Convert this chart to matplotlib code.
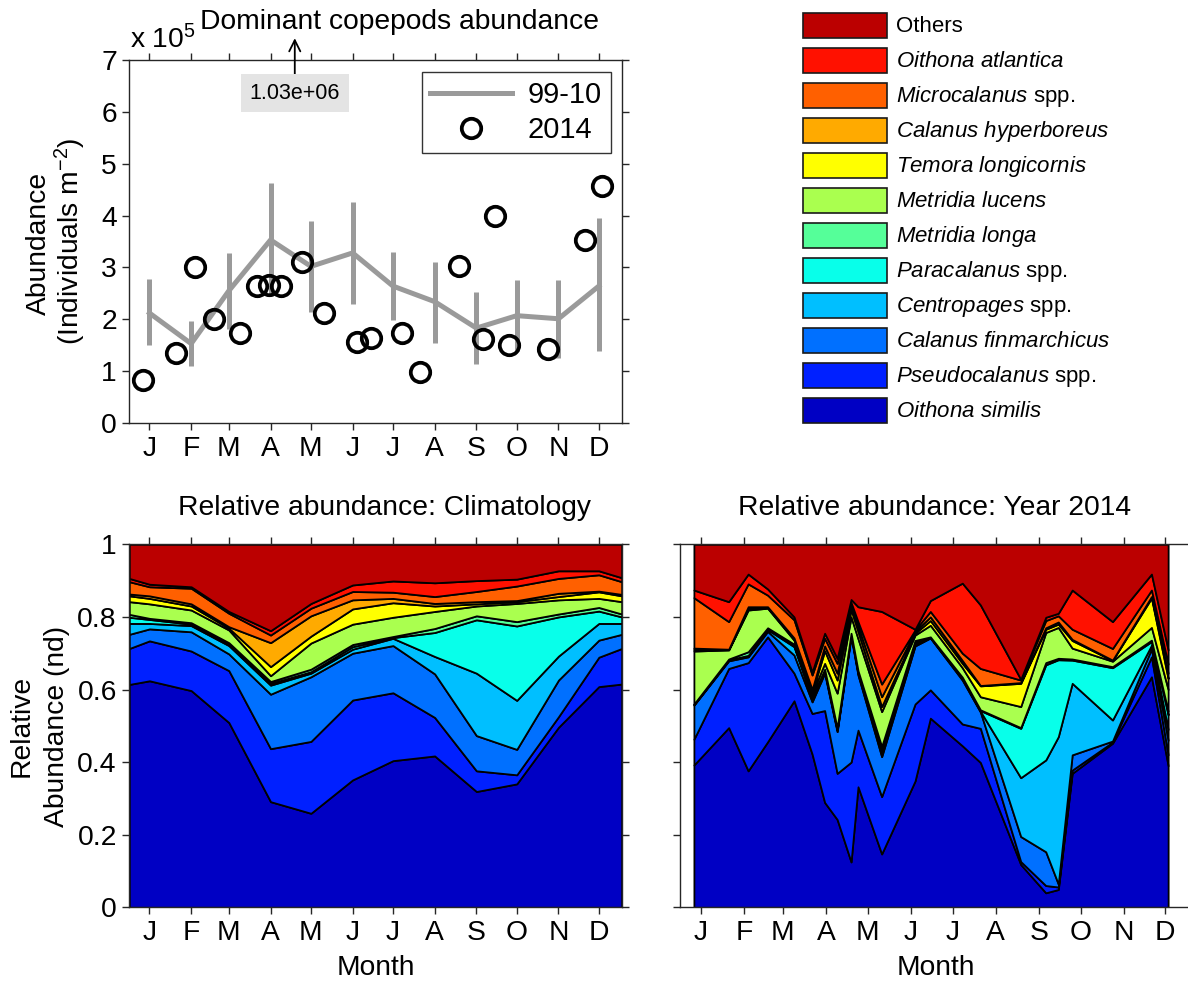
import numpy as np
import matplotlib
matplotlib.use("Agg")
import matplotlib.pyplot as plt
from matplotlib.patches import Rectangle

plt.rcParams['font.family'] = ['Liberation Sans', 'DejaVu Sans']
plt.rcParams['mathtext.fontset'] = 'custom'
plt.rcParams['mathtext.rm'] = 'Liberation Sans'
plt.rcParams['mathtext.it'] = 'Liberation Sans:italic'
plt.rcParams['mathtext.bf'] = 'Liberation Sans:bold'

# ---------------------------------------------------------------- data
month_labels = list("JFMAMJJASOND")
month_days = [15, 46, 74, 105, 135, 166, 196, 227, 258, 288, 319, 349]

# 1999-2010 monthly climatology of dominant copepods (x 1e5 ind m-2)
clim_mean = [2.12, 1.53, 2.55, 3.53, 3.02, 3.28, 2.64, 2.34, 1.83, 2.07, 2.01, 2.64]
clim_low = [1.50, 1.10, 1.82, 2.45, 2.15, 2.29, 1.99, 1.55, 1.13, 1.38, 1.25, 1.38]
clim_high = [2.77, 1.96, 3.28, 4.63, 3.90, 4.27, 3.29, 3.10, 2.52, 2.75, 2.75, 3.95]

# 2014 sampling days (day of year) and abundance (x 1e5 ind m-2)
sample_days = [10, 35, 49, 63, 82, 95, 104, 113, 123, 128, 145, 169,
               180, 203, 216, 245, 263, 272, 282, 311, 339, 351]
sample_abund = [0.82, 1.35, 3.00, 2.00, 1.73, 2.65, 2.66, 2.65, 10.3, 3.11, 2.12, 1.56,
                1.64, 1.73, 0.98, 3.02, 1.62, 4.00, 1.50, 1.43, 3.53, 4.57]

species_labels = [
    r"$\mathit{Oithona\ similis}$",
    r"$\mathit{Pseudocalanus}$ spp.",
    r"$\mathit{Calanus\ finmarchicus}$",
    r"$\mathit{Centropages}$ spp.",
    r"$\mathit{Paracalanus}$ spp.",
    r"$\mathit{Metridia\ longa}$",
    r"$\mathit{Metridia\ lucens}$",
    r"$\mathit{Temora\ longicornis}$",
    r"$\mathit{Calanus\ hyperboreus}$",
    r"$\mathit{Microcalanus}$ spp.",
    r"$\mathit{Oithona\ atlantica}$",
    "Others",
]
species_colors = ['#0000C4', '#0020FF', '#0070FF', '#00BFFF', '#08FFEA', '#55FF99',
                  '#AAFF4F', '#FFFF00', '#FFAA00', '#FF6000', '#FF1100', '#BB0000']

# Climatology: cumulative relative abundance (upper edge of each species,
# bottom to top; "Others" fills up to 1). Year-wrapped ends at day 0 and 366.
clim_days = [0] + month_days + [366]
clim_cum = [
    [0.614, 0.624, 0.597, 0.509, 0.291, 0.259, 0.351, 0.404, 0.417, 0.319, 0.340, 0.496, 0.608, 0.615],
    [0.713, 0.734, 0.706, 0.652, 0.437, 0.457, 0.571, 0.591, 0.523, 0.376, 0.365, 0.525, 0.689, 0.713],
    [0.752, 0.767, 0.759, 0.698, 0.587, 0.635, 0.700, 0.721, 0.643, 0.473, 0.435, 0.626, 0.736, 0.752],
    [0.782, 0.782, 0.776, 0.721, 0.612, 0.645, 0.711, 0.741, 0.691, 0.645, 0.570, 0.692, 0.782, 0.782],
    [0.799, 0.793, 0.780, 0.725, 0.617, 0.649, 0.718, 0.743, 0.757, 0.792, 0.775, 0.800, 0.816, 0.800],
    [0.807, 0.796, 0.784, 0.729, 0.622, 0.656, 0.724, 0.746, 0.768, 0.803, 0.787, 0.808, 0.826, 0.808],
    [0.842, 0.836, 0.819, 0.764, 0.638, 0.728, 0.780, 0.799, 0.815, 0.830, 0.837, 0.847, 0.851, 0.842],
    [0.858, 0.851, 0.830, 0.769, 0.663, 0.747, 0.822, 0.839, 0.830, 0.836, 0.842, 0.856, 0.869, 0.858],
    [0.863, 0.858, 0.836, 0.773, 0.729, 0.803, 0.847, 0.851, 0.837, 0.842, 0.845, 0.865, 0.871, 0.862],
    [0.897, 0.883, 0.879, 0.810, 0.750, 0.824, 0.870, 0.868, 0.856, 0.870, 0.885, 0.906, 0.916, 0.897],
    [0.906, 0.890, 0.883, 0.815, 0.762, 0.837, 0.888, 0.899, 0.894, 0.900, 0.904, 0.927, 0.927, 0.908],
]

# 2014: cumulative relative abundance at each sampling day
y2014_cum = [
    [0.392, 0.495, 0.376, 0.456, 0.569, 0.422, 0.289, 0.242, 0.125, 0.332, 0.147, 0.348, 0.521, 0.445, 0.399, 0.118, 0.040, 0.049, 0.369, 0.452, 0.635, 0.390],
    [0.463, 0.658, 0.674, 0.745, 0.645, 0.534, 0.542, 0.369, 0.400, 0.488, 0.305, 0.560, 0.599, 0.505, 0.493, 0.126, 0.060, 0.056, 0.378, 0.455, 0.690, 0.420],
    [0.557, 0.679, 0.690, 0.760, 0.695, 0.566, 0.645, 0.484, 0.746, 0.640, 0.415, 0.720, 0.742, 0.626, 0.538, 0.195, 0.153, 0.064, 0.420, 0.458, 0.712, 0.460],
    [0.558, 0.681, 0.692, 0.765, 0.718, 0.575, 0.650, 0.488, 0.750, 0.645, 0.424, 0.725, 0.743, 0.630, 0.540, 0.357, 0.406, 0.470, 0.617, 0.516, 0.722, 0.490],
    [0.559, 0.682, 0.694, 0.767, 0.721, 0.578, 0.653, 0.490, 0.752, 0.648, 0.433, 0.730, 0.744, 0.632, 0.542, 0.493, 0.668, 0.682, 0.681, 0.660, 0.732, 0.530],
    [0.560, 0.684, 0.704, 0.770, 0.725, 0.580, 0.656, 0.494, 0.755, 0.652, 0.443, 0.735, 0.745, 0.634, 0.544, 0.495, 0.674, 0.686, 0.684, 0.663, 0.736, 0.540],
    [0.706, 0.709, 0.819, 0.824, 0.736, 0.590, 0.672, 0.590, 0.800, 0.740, 0.539, 0.750, 0.777, 0.660, 0.580, 0.553, 0.757, 0.771, 0.714, 0.678, 0.771, 0.600],
    [0.710, 0.710, 0.823, 0.826, 0.739, 0.592, 0.707, 0.626, 0.820, 0.760, 0.553, 0.755, 0.790, 0.672, 0.610, 0.617, 0.766, 0.780, 0.735, 0.680, 0.852, 0.630],
    [0.714, 0.711, 0.828, 0.828, 0.742, 0.600, 0.720, 0.645, 0.830, 0.775, 0.580, 0.760, 0.800, 0.680, 0.611, 0.619, 0.770, 0.786, 0.738, 0.681, 0.856, 0.645],
    [0.853, 0.787, 0.891, 0.860, 0.792, 0.640, 0.741, 0.672, 0.840, 0.787, 0.615, 0.764, 0.815, 0.700, 0.658, 0.626, 0.790, 0.803, 0.766, 0.713, 0.874, 0.670],
    [0.874, 0.842, 0.918, 0.877, 0.800, 0.648, 0.755, 0.686, 0.848, 0.828, 0.815, 0.766, 0.845, 0.893, 0.833, 0.628, 0.799, 0.810, 0.874, 0.787, 0.918, 0.709],
]

# ---------------------------------------------------------------- layout
W, H = 1188, 983
fig = plt.figure(figsize=(W / 100, H / 100), dpi=100)
SPINE = '#262626'
FS = 20.3


def px_axes(left, top, right, bottom):
    return fig.add_axes([left / W, 1 - bottom / H, (right - left) / W, (bottom - top) / H])


def style_axes(ax):
    for s in ax.spines.values():
        s.set_color(SPINE)
        s.set_linewidth(1.0)
    ax.tick_params(direction='out', length=5, width=1.0, color=SPINE,
                   top=True, right=True, labelsize=FS, pad=4)
    ax.set_xticks(month_days)
    ax.set_xticklabels(month_labels)


# ---------------------------------------------------------------- abundance
ax1 = px_axes(129.3, 60, 621.7, 423)
style_axes(ax1)
ax1.set_xlim(0, 366)
ax1.set_ylim(0, 7)
ax1.set_yticks(range(0, 8))
mean = np.array(clim_mean)
ax1.errorbar(month_days, clim_mean,
             yerr=[mean - np.array(clim_low), np.array(clim_high) - mean],
             fmt='none', ecolor='#9a9a9a', elinewidth=3.6, capsize=0)
line_clim, = ax1.plot(month_days, clim_mean, color='#9a9a9a', lw=3.6, label='99-10')
pts, = ax1.plot(sample_days, sample_abund, 'o', mfc='none', mec='k', ms=14, mew=2.7,
                label='2014')

imax = int(np.argmax(sample_abund))
ax1.annotate(f"{sample_abund[imax] * 1e5:.2e}",
             xy=(sample_days[imax], 7.42), xytext=(sample_days[imax], 6.36),
             ha='center', va='center', fontsize=15.5, annotation_clip=False,
             bbox=dict(boxstyle='square,pad=0.4', fc='#e4e4e4', ec='none'),
             arrowprops=dict(arrowstyle='->', color='k', lw=1.3,
                             shrinkA=0, shrinkB=0, mutation_scale=20))

leg = ax1.legend(handles=[line_clim, pts], loc='upper right',
                 bbox_to_anchor=(0.978, 0.967), borderaxespad=0.0,
                 fontsize=21, frameon=True, fancybox=False, edgecolor='k',
                 handlelength=2.8, handletextpad=0.55, labelspacing=0.25,
                 borderpad=0.3)
leg.get_frame().set_linewidth(1.0)

fig.text(130 / W, 1 - 40 / H, r"x 10$^{5}$", fontsize=FS, ha='left', va='center')
fig.text(399 / W, 1 - 22 / H, "Dominant copepods abundance", fontsize=FS,
         ha='center', va='center')
fig.text(39 / W, 1 - 243 / H, "Abundance", rotation=90, fontsize=FS,
         ha='center', va='center')
fig.text(70 / W, 1 - 241 / H, r"(Individuals m$^{-2}$)", rotation=90, fontsize=FS,
         ha='center', va='center')


# ---------------------------------------------------------------- stacks
def draw_stack(ax, days, cum):
    lower = np.zeros(len(days))
    edges = [np.asarray(c) for c in cum] + [np.ones(len(days))]
    for upper, col in zip(edges, species_colors):
        ax.fill_between(days, lower, upper, facecolor=col, edgecolor='k',
                        linewidth=1.3, zorder=2)
        lower = upper


ax2 = px_axes(129.3, 544.3, 621.7, 907.3)
style_axes(ax2)
ax2.set_xlim(0, 366)
ax2.set_ylim(0, 1)
ax2.set_yticks([0, 0.2, 0.4, 0.6, 0.8, 1])
ax2.set_yticklabels(["0", "0.2", "0.4", "0.6", "0.8", "1"])
draw_stack(ax2, clim_days, clim_cum)

ax3 = px_axes(680, 544.3, 1189, 907.3)
style_axes(ax3)
ax3.set_xlim(0, 366)
ax3.set_ylim(0, 1)
ax3.set_yticks([0, 0.2, 0.4, 0.6, 0.8, 1])
ax3.set_yticklabels([])
draw_stack(ax3, sample_days, y2014_cum)

fig.text(384 / W, 1 - 508 / H, "Relative abundance: Climatology", fontsize=FS,
         ha='center', va='center')
fig.text(935 / W, 1 - 508 / H, "Relative abundance: Year 2014", fontsize=FS,
         ha='center', va='center')
fig.text(376 / W, 1 - 968 / H, "Month", fontsize=FS, ha='center', va='center')
fig.text(936 / W, 1 - 968 / H, "Month", fontsize=FS, ha='center', va='center')
fig.text(22 / W, 1 - 726 / H, "Relative", rotation=90, fontsize=FS,
         ha='center', va='center')
fig.text(57 / W, 1 - 726 / H, "Abundance (nd)", rotation=90, fontsize=FS,
         ha='center', va='center')

# ---------------------------------------------------------------- species key
key = fig.add_axes([0, 0, 1, 1])
key.set_xlim(0, W)
key.set_ylim(H, 0)
key.axis('off')
for i, (lab, col) in enumerate(zip(species_labels[::-1], species_colors[::-1])):
    yc = 25.8 + 35.0 * i
    key.add_patch(Rectangle((802.5, yc - 12.5), 84.5, 25, facecolor=col,
                            edgecolor='#1a1a1a', linewidth=1.2))
    key.text(896, yc + 1, lab, fontsize=16, ha='left', va='center')

fig.savefig("out.png", dpi=100)
